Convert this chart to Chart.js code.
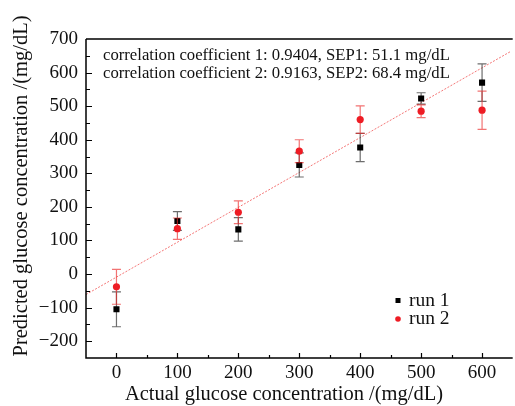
<!DOCTYPE html>
<html><head><meta charset="utf-8">
<script src="https://cdn.jsdelivr.net/npm/chart.js@4/dist/chart.umd.min.js"></script>
<style>html,body{margin:0;padding:0;background:#fff}#wrap{width:515px;height:406px;position:relative}</style>
</head><body><div id="wrap"><canvas id="c"></canvas></div>
<script>
const concentrations = [0, 100, 200, 300, 400, 500, 600];
const run1 = [-105, 158, 133, 325, 377, 523, 570];
const run1Err = [52, 28, 35, 36, 42, 17, 56];
const run2 = [-38, 135, 184, 366, 460, 485, 488];
const run2Err = [52, 32, 34, 34, 41, 19, 57];
const fitX = [-50, 647];
const fitY = [-61, 663];
const xTicks = [0, 100, 200, 300, 400, 500, 600];
const yTicks = [-200, -100, 0, 100, 200, 300, 400, 500, 600, 700];
const seriesNames = ['run 1', 'run 2'];
const noteLines = [
  'correlation coefficient 1: 0.9404, SEP1: 51.1 mg/dL',
  'correlation coefficient 2: 0.9163, SEP2: 68.4 mg/dL'
];
const xTitle = 'Actual glucose concentration /(mg/dL)';
const yTitle = 'Predicted glucose concentration /(mg/dL)';

const SERIF = '"Liberation Serif", "DejaVu Serif", serif';
const errs = { 0: run1Err, 1: run2Err };
const errColors = { 0: 'rgba(60,60,60,0.75)', 1: 'rgba(235,40,40,0.65)' };

const pts = (xs, ys) => xs.map((x, i) => ({ x, y: ys[i] }));

const errorBarPlugin = {
  id: 'errbars',
  beforeDatasetDraw(chart, args) {
    const e = errs[args.index];
    if (!e) return;
    const ds = chart.data.datasets[args.index];
    const xs = chart.scales.x, ys = chart.scales.y;
    const ctx = chart.ctx;
    ctx.save();
    ctx.strokeStyle = errColors[args.index];
    ctx.lineWidth = 1.2;
    ds.data.forEach((p, i) => {
      const px = xs.getPixelForValue(p.x);
      const top = ys.getPixelForValue(p.y + e[i]);
      const bot = ys.getPixelForValue(p.y - e[i]);
      ctx.beginPath();
      ctx.moveTo(px, top); ctx.lineTo(px, bot);
      ctx.moveTo(px - 4.5, top); ctx.lineTo(px + 4.5, top);
      ctx.moveTo(px - 4.5, bot); ctx.lineTo(px + 4.5, bot);
      ctx.stroke();
    });
    ctx.restore();
  }
};

const framePlugin = {
  id: 'frame',
  afterDraw(chart) {
    const ctx = chart.ctx, a = chart.chartArea;
    const xs = chart.scales.x, ys = chart.scales.y;
    ctx.save();
    ctx.strokeStyle = '#000';
    ctx.lineWidth = 1.5;
    ctx.beginPath();
    ctx.moveTo(a.left, a.top); ctx.lineTo(a.right + 2, a.top);
    ctx.moveTo(a.left, a.top); ctx.lineTo(a.left, a.bottom);
    ctx.lineTo(a.right + 2, a.bottom);
    ctx.stroke();
    ctx.lineWidth = 1.2;
    ctx.beginPath();
    for (let v = -50; v <= 650; v += 50) {
      const px = Math.round(xs.getPixelForValue(v)) + 0.5;
      if (px <= a.left + 1 || px > a.right) continue;
      const len = (v % 100 === 0) ? 5 : 3;
      ctx.moveTo(px, a.bottom); ctx.lineTo(px, a.bottom - len);
    }
    for (let v = -250; v <= 700; v += 50) {
      const py = Math.round(ys.getPixelForValue(v)) + 0.5;
      if (py >= a.bottom - 1 || py <= a.top + 1) continue;
      const len = (v % 100 === 0) ? 6 : 4;
      ctx.moveTo(a.left, py); ctx.lineTo(a.left + len, py);
    }
    ctx.stroke();

    ctx.fillStyle = '#111';
    ctx.textBaseline = 'alphabetic';

    // axis titles
    ctx.font = '20.5px ' + SERIF;
    ctx.textAlign = 'center';
    ctx.fillText(xTitle, 284, 400);
    ctx.save();
    ctx.translate(27, 186);
    ctx.rotate(-Math.PI / 2);
    ctx.fillText(yTitle, 0, 0);
    ctx.restore();

    // annotation
    ctx.textAlign = 'left';
    ctx.font = '16.7px ' + SERIF;
    ctx.fillText(noteLines[0], 103, 59.5);
    ctx.fillText(noteLines[1], 103, 78);

    // legend
    const d0 = chart.data.datasets[0], d1 = chart.data.datasets[1];
    ctx.fillStyle = d0.backgroundColor;
    ctx.fillRect(395.5, 298, 5, 5);
    ctx.fillStyle = d1.backgroundColor;
    ctx.beginPath(); ctx.arc(398, 319, 2.8, 0, Math.PI * 2); ctx.fill();
    ctx.fillStyle = '#111';
    ctx.font = '19.5px ' + SERIF;
    ctx.fillText(seriesNames[0], 409, 306);
    ctx.fillText(seriesNames[1], 409, 324);
    ctx.restore();
  }
};

new Chart(document.getElementById('c'), {
  type: 'scatter',
  data: {
    datasets: [
      { label: seriesNames[0], data: pts(concentrations, run1), pointStyle: 'rect', pointRadius: 4.3,
        backgroundColor: '#000', borderColor: '#000', borderWidth: 0, order: 1 },
      { label: seriesNames[1], data: pts(concentrations, run2), pointStyle: 'circle', pointRadius: 3.6,
        backgroundColor: '#ee1c24', borderColor: '#ee1c24', borderWidth: 0, order: 0 },
      { label: 'fit', data: pts(fitX, fitY), showLine: true, pointRadius: 0, borderWidth: 1,
        borderColor: 'rgba(240,60,60,0.7)', borderDash: [2, 1.5], order: 2 }
    ]
  },
  options: {
    responsive: true, maintainAspectRatio: false, animation: false,
    layout: { padding: { top: 39, right: 0, left: 0, bottom: 0 } },
    plugins: { legend: { display: false }, tooltip: { enabled: false } },
    scales: {
      x: {
        type: 'linear', min: -50, max: 647,
        afterBuildTicks: s => { s.ticks = xTicks.map(v => ({ value: v })); },
        afterFit: s => { s.height = 48; },
        grid: { display: false, drawTicks: false },
        border: { display: false },
        ticks: { color: '#111', font: { family: SERIF, size: 19 }, padding: 4, maxRotation: 0,
                 callback: v => String(v) },
        title: { display: false }
      },
      y: {
        type: 'linear', min: -250, max: 700,
        afterBuildTicks: s => { s.ticks = yTicks.map(v => ({ value: v })); },
        afterFit: s => { s.width = 86; },
        grid: { display: false, drawTicks: false },
        border: { display: false },
        ticks: { color: '#111', font: { family: SERIF, size: 19 }, padding: 8,
                 callback: v => (v < 0 ? '\u2212' + Math.abs(v) : String(v)) },
        title: { display: false }
      }
    }
  },
  plugins: [errorBarPlugin, framePlugin]
});
</script></body></html>
